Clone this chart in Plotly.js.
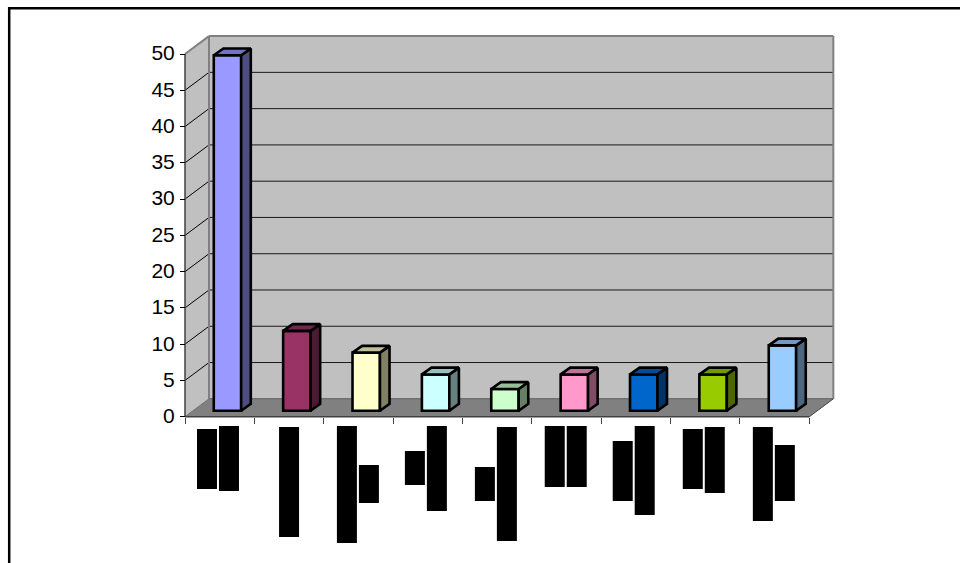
<!DOCTYPE html>
<html>
<head>
<meta charset="utf-8">
<script src="https://cdn.plot.ly/plotly-3.0.1.min.js"></script>
<style>html,body{margin:0;padding:0;background:#fff}#chart{width:960px;height:563px}</style>
</head>
<body>
<div id="chart"></div>
<script>
// Bar heights, one per category
const barValues = [49, 11, 8, 5, 3, 5, 5, 5, 9];
// Front-face colour of each bar
const barColors = ['#9999FF', '#993366', '#FFFFCC', '#CCFFFF', '#CCFFCC', '#FF99CC', '#0066CC', '#99CC00', '#99CCFF'];
const tickValues = [0, 5, 10, 15, 20, 25, 30, 35, 40, 45, 50];
const categoryEdges = [0, 1, 2, 3, 4, 5, 6, 7, 8, 9];

// Blacked-out category labels: horizontal slot (in category units), top and bottom (px below the page top)
const blockSlots = [0.317, 0.634, 1.5, 2.334, 2.651, 3.314, 3.631, 4.323, 4.64, 5.33, 5.647, 6.31, 6.627, 7.32, 7.637, 8.33, 8.647];
const blockTops = [429, 426, 427, 426, 465, 451, 426, 467, 427, 426, 426, 441, 426, 429, 427, 427, 445];
const blockBottoms = [489, 491, 537, 543, 503, 485, 511, 501, 541, 487, 487, 501, 515, 489, 493, 521, 501];

// Page-to-axis scale
const W = 960, H = 563;
const x0 = 185, y0 = 416.7;
const pxPerCat = 69.37, pxPerUnit = 7.254;
const cx = px => px / pxPerCat, cy = px => px / pxPerUnit;

// Oblique projection offsets: chart box depth, bar inset, bar depth
const wallDX = cx(24), wallDY = cy(17.9);
const insetDX = cx(7.8), insetDY = cy(6);
const barDX = cx(9.6), barDY = cy(6.8);
const barWidth = 0.395;
const maxVal = 50;

function shade(hex, k) {
  const n = parseInt(hex.slice(1), 16);
  const c = [n >> 16, (n >> 8) & 255, n & 255].map(v => Math.round(v * k));
  return `rgb(${c[0]},${c[1]},${c[2]})`;
}
const poly = pts => 'M' + pts.map(p => p.join(',')).join('L') + 'Z';
const seg = (a, b, color, width) => ({
  type: 'line', xref: 'x', yref: 'y', layer: 'below',
  x0: a[0], y0: a[1], x1: b[0], y1: b[1], line: {color, width}
});

const shapes = [];
// Left wall, back wall, floor
const fillShape = (pts, color) => ({type: 'path', xref: 'x', yref: 'y', layer: 'below', path: poly(pts), fillcolor: color, line: {width: 0}});
shapes.push(fillShape([[0, 0], [wallDX, wallDY], [wallDX, maxVal + wallDY], [0, maxVal]], '#C0C0C0'));
shapes.push(fillShape([[wallDX, wallDY], [9 + wallDX, wallDY], [9 + wallDX, maxVal + wallDY], [wallDX, maxVal + wallDY]], '#C0C0C0'));
shapes.push(fillShape([[0, 0], [9, 0], [9 + wallDX, wallDY], [wallDX, wallDY]], '#808080'));
// Gridlines across the left and back walls
tickValues.slice(1, -1).forEach(v => {
  shapes.push(seg([0, v], [wallDX, v + wallDY], '#000000', 1));
  shapes.push(seg([wallDX, v + wallDY], [9 + wallDX, v + wallDY], '#1a1a1a', 1));
});
// Wall outlines
const edge = '#808080';
shapes.push(seg([0, maxVal], [wallDX, maxVal + wallDY], edge, 2));
shapes.push(seg([wallDX, maxVal + wallDY], [9 + wallDX, maxVal + wallDY], edge, 2));
shapes.push(seg([wallDX, wallDY], [wallDX, maxVal + wallDY], edge, 2));
shapes.push(seg([9 + wallDX, wallDY], [9 + wallDX, maxVal + wallDY], edge, 2));
shapes.push(seg([wallDX, wallDY], [9 + wallDX, wallDY], '#707070', 1.5));
shapes.push(seg([0, 0], [wallDX, wallDY], '#707070', 1));
shapes.push(seg([9, 0], [9 + wallDX, wallDY], '#404040', 1));
// Axis lines
shapes.push(seg([0, 0], [0, maxVal], '#404040', 1.5));
shapes.push(seg([0, 0], [9, 0], '#404040', 1.5));
// Page frame along the top and left
shapes.push({type: 'line', xref: 'paper', yref: 'paper', layer: 'above', x0: 8 / W, x1: 1, y0: 1 - 8.2 / H, y1: 1 - 8.2 / H, line: {color: '#000', width: 2.5}});
shapes.push({type: 'line', xref: 'paper', yref: 'paper', layer: 'above', x0: 9.2 / W, x1: 9.2 / W, y0: 0, y1: 1 - 7 / H, line: {color: '#000', width: 2.5}});

const traces = [];
// Front faces, standing on the inset floor level
traces.push({
  type: 'bar', x: barValues.map((_, i) => i + 0.5 + insetDX), y: barValues,
  base: barValues.map(() => insetDY), width: barWidth,
  marker: {color: barColors, line: {color: '#000', width: 2.6}}, hoverinfo: 'skip'
});
// Side and top faces, derived from each bar's value
barValues.forEach((v, i) => {
  const l = i + 0.5 + insetDX - barWidth / 2, r = l + barWidth;
  const b = insetDY, t = insetDY + v;
  const side = [[r, b], [r + barDX, b + barDY], [r + barDX, t + barDY], [r, t], [r, b]];
  const top = [[l, t], [r, t], [r + barDX, t + barDY], [l + barDX, t + barDY], [l, t]];
  [[side, 0.5], [top, 0.75]].forEach(([pts, k]) => traces.push({
    type: 'scatter', mode: 'lines', fill: 'toself', fillcolor: shade(barColors[i], k),
    x: pts.map(p => p[0]), y: pts.map(p => p[1]),
    line: {color: '#000', width: 2.6}, hoverinfo: 'skip'
  }));
});
// Black label blocks, on an overlaid pixel-valued axis
traces.push({
  type: 'bar', x: blockSlots, y: blockBottoms.map((b, i) => b - blockTops[i]), base: blockTops,
  width: cx(20), yaxis: 'y2', marker: {color: '#000', line: {width: 0}}, hoverinfo: 'skip'
});

const layout = {
  width: W, height: H, margin: {l: 0, r: 0, t: 0, b: 0},
  paper_bgcolor: '#fff', plot_bgcolor: '#fff', showlegend: false,
  xaxis: {
    range: [cx(-x0), cx(W - x0)], domain: [0, 1], anchor: 'free', position: (H - y0) / H,
    tickmode: 'array', tickvals: categoryEdges, ticktext: categoryEdges.map(() => ''),
    ticks: 'outside', ticklen: 6, tickwidth: 1, tickcolor: '#404040',
    showgrid: false, zeroline: false, showline: false
  },
  yaxis: {
    range: [cy(y0 - H), cy(y0)], domain: [0, 1], anchor: 'free', position: x0 / W,
    tickmode: 'array', tickvals: tickValues, ticktext: tickValues.map(String),
    ticks: 'outside', ticklen: 5, tickwidth: 1, tickcolor: '#000',
    ticklabelstandoff: 1, ticklabelshift: -1,
    tickfont: {family: 'Liberation Sans, Arial, sans-serif', size: 21, color: '#000'},
    showgrid: false, zeroline: false, showline: false
  },
  yaxis2: {range: [H, 0], domain: [0, 1], overlaying: 'y', visible: false},
  shapes
};

Plotly.newPlot('chart', traces, layout, {staticPlot: true, displayModeBar: false});
</script>
</body>
</html>
